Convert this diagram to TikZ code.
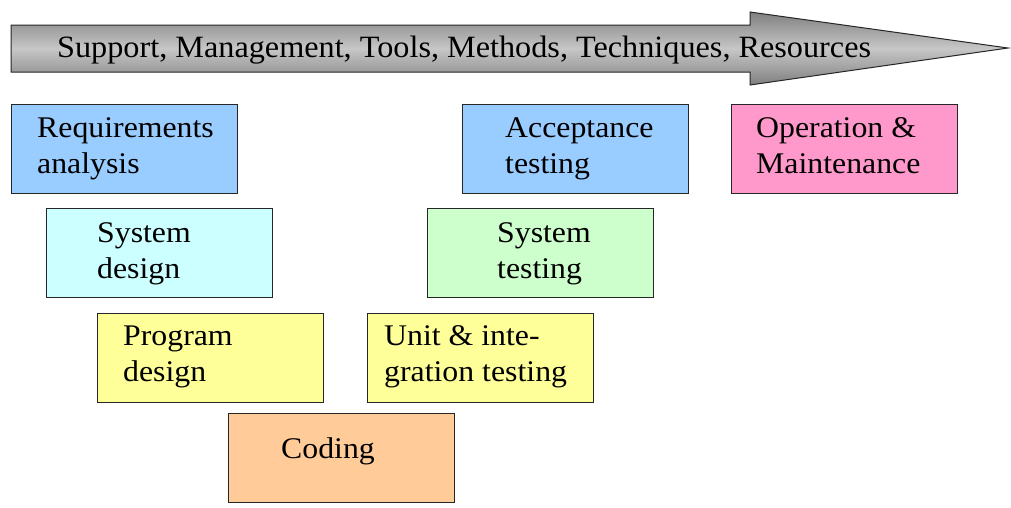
\documentclass[tikz,border=0pt]{standalone}
\usepackage{fontspec}
\setmainfont{Liberation Serif}
\newfontfamily\boxfont[FakeStretch=1.06]{Liberation Serif}
\newfontfamily\barfont[FakeStretch=1.04]{Liberation Serif}
\begin{document}
\begin{tikzpicture}[x=1pt,y=-1pt,
  box/.style={draw=black!85, line width=1pt, anchor=north west, inner sep=0pt,
    minimum width=226pt, minimum height=89pt},
  txt/.style={anchor=base west, inner sep=0pt, align=left,
    font=\boxfont\fontsize{30}{36}\selectfont},
  bar/.style={draw=black!85, line width=1pt, top color=black!50, bottom color=black!50, middle color=black!22}]
\useasboundingbox (0,0) rectangle (1011,507);
% arrow
\coordinate (a1) at (11,25);
\coordinate (a2) at (750,25);
\coordinate (a3) at (750,12);
\coordinate (a4) at (1008,48);
\coordinate (a5) at (750,85);
\coordinate (a6) at (750,72);
\coordinate (a7) at (11,72);
\shade[bar] (a1) -- (a2) -- (a3) -- (a4) -- (a5) -- (a6) -- (a7) -- cycle;
\node[txt, font=\barfont\fontsize{31}{36}\selectfont] (atxt) at (57,57) {Support, Management, Tools, Methods, Techniques, Resources};
% boxes
\node[box, fill={rgb,255:red,153;green,204;blue,255}] (req) at (11,104) {};
\node[box, fill={rgb,255:red,204;green,255;blue,255}] (sysd) at (46,208) {};
\node[box, fill={rgb,255:red,255;green,255;blue,153}] (prog) at (97,313) {};
\node[box, fill={rgb,255:red,255;green,204;blue,153}] (cod) at (228,413) {};
\node[box, fill={rgb,255:red,255;green,255;blue,153}] (unit) at (367,313) {};
\node[box, fill={rgb,255:red,204;green,255;blue,204}] (syst) at (427,208) {};
\node[box, fill={rgb,255:red,153;green,204;blue,255}] (acc) at (462,104) {};
\node[box, fill={rgb,255:red,255;green,153;blue,204}] (op) at (731,104) {};
% texts (base anchor = baseline of last line)
\node[txt] (reqt) at (37,173) {Requirements\\analysis};
\node[txt] (sysdt) at (97,278) {System\\design};
\node[txt] (progt) at (123,381) {Program\\design};
\node[txt] (codt) at (281,458) {Coding};
\node[txt] (unitt) at (384,381) {Unit \& inte-\\gration testing};
\node[txt] (systt) at (497,278) {System\\testing};
\node[txt] (acct) at (505,173) {Acceptance\\testing};
\node[txt] (opt) at (756,173) {Operation \&\\Maintenance};
\end{tikzpicture}
\end{document}
